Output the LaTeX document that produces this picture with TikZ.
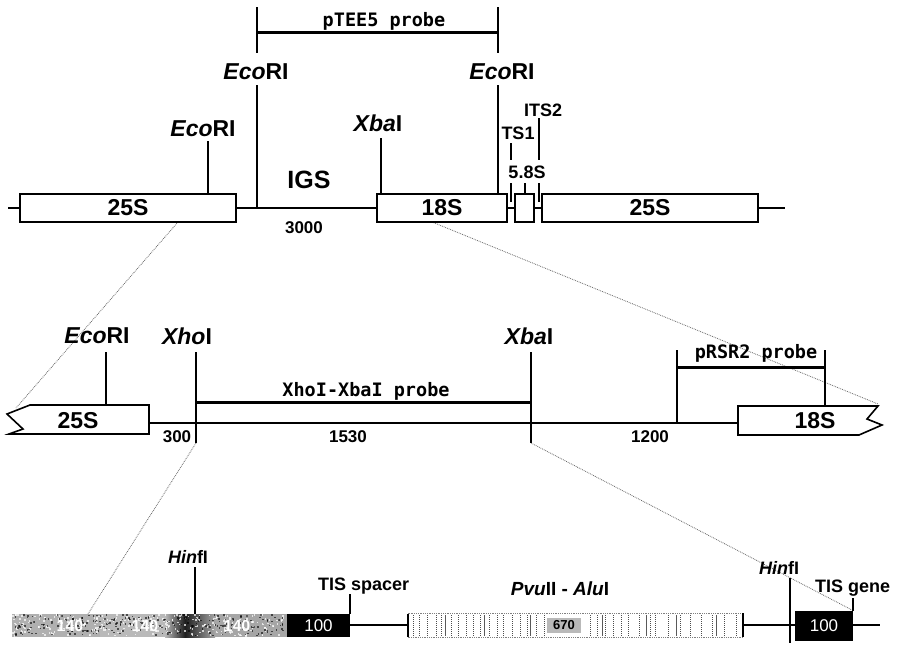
\documentclass[tikz,border=0pt]{standalone}
\usepackage{fontspec}
\setmainfont{Liberation Sans}
\newfontfamily\prbfam{DejaVu Sans Mono}
\newcommand\labfnt{\fontsize{23}{23}\selectfont\bfseries}
\newcommand\smfnt{\fontsize{18}{18}\selectfont\bfseries}
\newcommand\numfnt{\fontsize{17}{17}\selectfont\bfseries}
\newcommand\prbfnt{\prbfam\fontsize{18.5}{18.5}\selectfont\bfseries}
\begin{document}
\begin{tikzpicture}[x=1pt,y=-1pt,
  mainline/.style={line width=1.6pt},
  boxs/.style={draw, line width=1.6pt, fill=white, inner sep=0pt, minimum height=28pt, font=\labfnt},
  tickl/.style={line width=1.5pt},
  lab/.style={font=\labfnt, inner sep=0pt},
  sm/.style={font=\smfnt, inner sep=0pt},
  num/.style={font=\numfnt, inner sep=0pt},
  prb/.style={font=\prbfnt, inner sep=0pt},
  zoomline/.style={gray!80!black, densely dotted, line width=0.8pt},
  probebar/.style={line width=3pt},
  wnum/.style={text=white, inner sep=0pt, font=\fontsize{16}{16}\selectfont\bfseries},
]
\useasboundingbox (0,0) rectangle (902,651);

% ---------- zoom lines ----------
\coordinate (z1a) at (178,222); \coordinate (z1b) at (16,408);
\coordinate (z2a) at (432,222); \coordinate (z2b) at (878,404);
\coordinate (z3a) at (196,443); \coordinate (z3b) at (88,614);
\coordinate (z4a) at (531,443); \coordinate (z4b) at (852,610);
\draw[zoomline] (z1a) -- (z1b);
\draw[zoomline] (z2a) -- (z2b);
\draw[zoomline] (z3a) -- (z3b);
\draw[zoomline] (z4a) -- (z4b);

% ---------- top row ----------
\coordinate (tl) at (8,208); \coordinate (tr) at (785,208);
\draw[mainline] (tl) -- (tr);
\node[boxs, minimum width=216pt] (t25a) at (128,208) {\raisebox{-1pt}{25S}};
\node[boxs, minimum width=130pt] (t18) at (442,208) {\raisebox{-1pt}{18S}};
\node[boxs, minimum width=19pt] (t58) at (524.5,208) {};
\node[boxs, minimum width=216pt] (t25b) at (650,208) {\raisebox{-1pt}{25S}};

% EcoRI in 25S
\node[lab] (le1) at (203,129) {\textit{Eco}RI};
\coordinate (e1) at (208,141);
\draw[tickl] (e1) -- (e1 |- t25a.north);
% EcoRI left of IGS
\node[lab] (le2) at (256,72) {\textit{Eco}RI};
\coordinate (e2) at (257,85); \coordinate (e2b) at (257,208);
\draw[tickl] (e2) -- (e2b);
% EcoRI in 18S
\node[lab] (le3) at (502,72) {\textit{Eco}RI};
\coordinate (e3) at (498,85);
\draw[tickl] (e3) -- (e3 |- t18.north);
% pTEE5 probe
\coordinate (p1a) at (257,7); \coordinate (p1b) at (257,53); \coordinate (p1m) at (257,32);
\coordinate (p2a) at (498,7); \coordinate (p2b) at (498,53); \coordinate (p2m) at (498,32);
\draw[tickl] (p1a) -- (p1b);
\draw[tickl] (p2a) -- (p2b);
\draw[probebar] (p1m) -- (p2m);
\node[prb] (lp1) at (384,21) {pTEE5 probe};
% XbaI
\node[lab] (lx1) at (378,123) {\textit{Xba}I};
\coordinate (x1) at (381,138);
\draw[tickl] (x1) -- (x1 |- t18.north);
% IGS
\node[lab, font=\fontsize{25}{25}\selectfont\bfseries] (igs) at (309,180) {IGS};
\node[num] (n3000) at (304,228) {3000};
% ITS
\node[sm] (its1) at (518,133) {TS1};
\node[sm] (its2) at (543,110) {ITS2};
\node[sm] (l58) at (527,172) {5.8S};
\coordinate (i1a) at (511,143); \coordinate (i1b) at (511,160);
\coordinate (i1c) at (511,183); \coordinate (i1d) at (511,202);
\coordinate (i2a) at (539,118); \coordinate (i2b) at (539,160);
\coordinate (i2c) at (539,183); \coordinate (i2d) at (539,202);
\coordinate (s58) at (525,183);
\draw[line width=1.2pt] (i1a) -- (i1b) (i1c) -- (i1d);
\draw[line width=1.2pt] (i2a) -- (i2b) (i2c) -- (i2d);
\draw[line width=1.2pt] (s58) -- (s58 |- t58.north);

% ---------- middle row ----------
\coordinate (ml) at (149,423); \coordinate (mr) at (738,423);
\draw[mainline] (ml) -- (mr);
\draw[line width=1.6pt, fill=white, line join=miter]
  (30,405) -- (149,405) -- (149,434) -- (9,434) -- (23,429) -- (7,414) -- cycle;
\node[lab] (m25) at (78,421) {25S};
\draw[line width=1.6pt, fill=white, line join=miter]
  (738,406) -- (878,406) -- (867,419) -- (882,425) -- (859,435) -- (738,435) -- cycle;
\node[lab] (m18) at (815,421) {18S};

\node[lab] (le4) at (97,336) {\textit{Eco}RI};
\coordinate (e4) at (106,352); \coordinate (e4b) at (106,405);
\draw[tickl] (e4) -- (e4b);
\node[lab] (lxh) at (187,336) {\textit{Xho}I};
\coordinate (xh) at (196,352); \coordinate (xhb) at (196,443); \coordinate (xhm) at (196,402);
\draw[tickl] (xh) -- (xhb);
\node[lab] (lx2) at (529,336) {\textit{Xba}I};
\coordinate (x2) at (531,352); \coordinate (x2b) at (531,443); \coordinate (x2m) at (531,402);
\draw[tickl] (x2) -- (x2b);
\draw[probebar] (xhm) -- (x2m);
\node[prb] (lp2) at (366,391) {XhoI-XbaI probe};
\node[num] (n300) at (177,437) {300};
\node[num] (n1530) at (348,437) {1530};
\node[num] (n1200) at (650,437) {1200};
% pRSR2 probe
\coordinate (r1a) at (677,350); \coordinate (r1b) at (677,423); \coordinate (r1m) at (677,367);
\coordinate (r2a) at (825,350); \coordinate (r2b) at (825,406); \coordinate (r2m) at (825,367);
\draw[tickl] (r1a) -- (r1b);
\draw[tickl] (r2a) -- (r2b);
\draw[probebar] (r1m) -- (r2m);
\node[prb] (lp3) at (756,353) {pRSR2 probe};

% ---------- bottom row ----------
\coordinate (b1) at (350,625); \coordinate (b2) at (408,625);
\coordinate (b3) at (743,625); \coordinate (b4) at (795,625);
\coordinate (b5) at (853,625); \coordinate (b6) at (880,625);
\draw[mainline] (b1) -- (b2);
\draw[mainline] (b3) -- (b4);
\draw[mainline] (b5) -- (b6);
% repeats
\fill[gray!62] (12,614) rectangle (100,637);
\fill[gray!55] (100,614) rectangle (165,637);
\shade[left color=gray!55, right color=black!88] (165,614) rectangle (185,637);
\shade[left color=black!88, right color=gray!70] (185,614) rectangle (215,637);
\fill[gray!70] (215,614) rectangle (287,637);
\pgfmathsetseed{11}
\foreach \i in {1,...,300}{
  \pgfmathsetmacro\rx{12+273*rnd}
  \pgfmathsetmacro\ry{614+21*rnd}
  \fill[white, opacity=0.7] (\rx,\ry) rectangle ++(1.6,1.6);
}
\foreach \i in {1,...,260}{
  \pgfmathsetmacro\rx{12+273*rnd}
  \pgfmathsetmacro\ry{614+21*rnd}
  \fill[black, opacity=0.6] (\rx,\ry) rectangle ++(1.6,1.6);
}
\node[wnum] (r140a) at (70,626) {140};
\node[wnum] (r140b) at (145,626) {140};
\node[wnum] (r140c) at (237,626) {140};
\node[fill=black, minimum width=63pt, minimum height=23pt, inner sep=0pt, text=white,
      font=\fontsize{17}{17}\selectfont] (tsp) at (318.5,625.5) {100};
% PvuII-AluI region
\draw[gray, densely dotted, line width=0.8pt, fill=white] (408,613) rectangle (743,637);
\draw[line width=1.4pt] (408,614) -- (408,637);
\draw[line width=1.6pt] (743,613) -- (743,637);
\foreach \sx in {413,419,427,436,441,451,458,466,473,480,489,497,503,512,520,527,536,544,590,597,605,613,621,628,639,650,655,668,680,690,701,712,724,736}{
  \draw[gray!60!black, densely dotted, line width=1pt] (\sx,615) -- (\sx,636);
}
\foreach \sx in {445,484,530,602,646,676,716}{
  \draw[gray!70!black, line width=1pt] (\sx,615) -- (\sx,636);
}
\node[fill=gray!55, minimum width=34pt, minimum height=15pt, inner sep=0pt,
      font=\fontsize{13}{13}\selectfont\bfseries] (l670) at (564,625) {670};
\node[lab, font=\fontsize{19}{19}\selectfont\bfseries] (lpa) at (560,589) {\textit{Pvu}II - \textit{Alu}I};
\node[fill=black, minimum width=58pt, minimum height=30pt, inner sep=0pt, text=white,
      font=\fontsize{17}{17}\selectfont] (tge) at (824,626) {100};
% HinfI
\node[sm] (lh1) at (188,557) {\textit{Hin}fI};
\coordinate (h1) at (195,567); \coordinate (h1b) at (195,614);
\draw[tickl] (h1) -- (h1b);
\node[sm] (lh2) at (779,568) {\textit{Hin}fI};
\coordinate (h2) at (790,578); \coordinate (h2b) at (790,643);
\draw[tickl] (h2) -- (h2b);
% TIS labels
\node[sm, anchor=west] (ltsp) at (318,586) {TIS spacer};
\coordinate (ts1) at (350,594);
\draw[line width=1.2pt] (ts1) -- (ts1 |- tsp.north);
\node[sm, anchor=west] (ltge) at (815,588) {TIS gene};
\coordinate (ts2) at (853,598);
\draw[line width=1.2pt] (ts2) -- (ts2 |- tge.north);
\end{tikzpicture}
\end{document}
